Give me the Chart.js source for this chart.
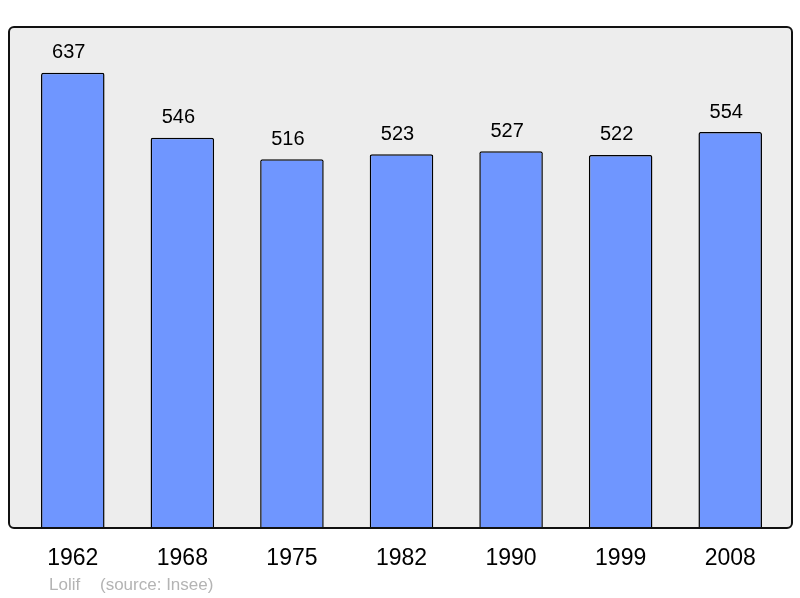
<!DOCTYPE html>
<html>
<head>
<meta charset="utf-8">
<script src="https://cdn.jsdelivr.net/npm/chart.js@4/dist/chart.umd.min.js"></script>
<style>
  html, body { margin: 0; padding: 0; background: #fff; }
  #wrap { width: 800px; height: 598px; }
</style>
</head>
<body>
<div id="wrap"><canvas id="popChart" width="800" height="598"></canvas></div>
<script>
// Données
const years = ['1962', '1968', '1975', '1982', '1990', '1999', '2008'];
const population = [637, 546, 516, 523, 527, 522, 554];
const yMax = 701;
const footerAuthor = 'Lolif';
const footerSource = '(source: Insee)';

// fond gris et cadre arrondi
const framePlugin = {
  id: 'frame',
  beforeDatasetsDraw(chart) {
    const ctx = chart.ctx;
    const a = chart.chartArea;
    ctx.save();
    ctx.beginPath();
    ctx.roundRect(9, a.top, 792 - 9, a.bottom - a.top, 5);
    ctx.fillStyle = '#ededed';
    ctx.fill();
    ctx.restore();
  },
  afterDatasetsDraw(chart) {
    const ctx = chart.ctx;
    const a = chart.chartArea;
    ctx.save();
    ctx.beginPath();
    ctx.roundRect(9, a.top, 792 - 9, a.bottom - a.top, 5);
    ctx.lineWidth = 2;
    ctx.strokeStyle = '#111';
    ctx.stroke();

    // valeurs au-dessus des barres
    ctx.font = '20px "Liberation Sans", Arial, sans-serif';
    ctx.fillStyle = '#000';
    ctx.textAlign = 'center';
    ctx.textBaseline = 'middle';
    chart.getDatasetMeta(0).data.forEach((bar, i) => {
      ctx.fillText(population[i], bar.x - 4, bar.y - 20);
    });

    // pied de page
    ctx.font = '17px "Liberation Sans", Arial, sans-serif';
    ctx.fillStyle = '#b4b4b4';
    ctx.textAlign = 'left';
    ctx.fillText(footerAuthor, 49, 585);
    ctx.fillText(footerSource, 100, 585);
    ctx.restore();
  }
};

new Chart(document.getElementById('popChart'), {
  type: 'bar',
  data: {
    labels: years,
    datasets: [{
      data: population,
      backgroundColor: '#6f96ff',
      borderColor: '#000',
      borderWidth: 1.5,
      borderRadius: 2,
      borderSkipped: 'bottom',
      barPercentage: 0.58,
      categoryPercentage: 1
    }]
  },
  options: {
    responsive: false,
    animation: false,
    layout: { padding: { left: 18, right: 15, top: 27, bottom: 0 } },
    plugins: { legend: { display: false }, tooltip: { enabled: false } },
    scales: {
      x: {
        grid: { display: false, drawTicks: false },
        border: { display: false },
        ticks: {
          color: '#000',
          font: { family: '"Liberation Sans", Arial, sans-serif', size: 23 },
          padding: 17
        },
        afterFit(scale) { scale.height = 70; }
      },
      y: {
        display: false,
        min: 0,
        max: yMax
      }
    }
  },
  plugins: [framePlugin]
});
</script>
</body>
</html>
